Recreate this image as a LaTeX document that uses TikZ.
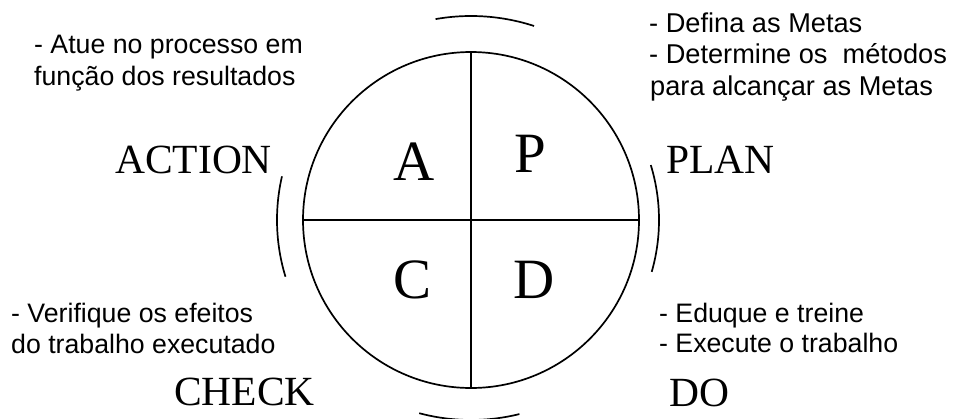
\documentclass[tikz,border=0pt]{standalone}
\usepackage{fontspec}
\setmainfont{Liberation Serif}
\newfontfamily\arialfont{Liberation Sans}
\begin{document}
\begin{tikzpicture}[x=1pt,y=1pt,
  ring/.style={line width=1.7pt},
  bigletter/.style={inner sep=0pt,anchor=base,font=\fontsize{57}{60}\selectfont},
  phase/.style={inner sep=0pt,anchor=base west,font=\fontsize{41.5}{44}\selectfont},
  note/.style={inner sep=0pt,anchor=base west,font=\arialfont\fontsize{26.7}{31}\selectfont},
  noteb/.style={note,font=\arialfont\fontsize{27.2}{31}\selectfont}]
\clip (0,0) rectangle (953,-418);
\fill[white] (0,0) rectangle (953,-418);
\coordinate (c) at (471,-220);
% circle and cross
\draw[ring] (c) circle[radius=168];
\coordinate (top) at (471,-52);
\coordinate (bot) at (471,-388);
\coordinate (lft) at (303,-220);
\coordinate (rgt) at (639,-220);
\draw[ring] (top) -- (bot);
\draw[ring] (lft) -- (rgt);
% outer arcs
\draw[ring] ([shift={(c)}]72:204) arc[start angle=72,end angle=100,radius=204];
\draw[ring] ([shift={(c)}]255:200) arc[start angle=255,end angle=284,radius=200];
\draw[ring] ([shift={(c)}]167:194) arc[start angle=167,end angle=197,radius=194];
\draw[ring] ([shift={(c)}]-16:188) arc[start angle=-16,end angle=17,radius=188];
% quadrant letters
\node[bigletter] (A) at (414.5,-180.5) {A};
\node[bigletter] (P) at (530,-172) {P};
\node[bigletter] (C) at (413,-298) {C};
\node[bigletter] (D) at (534.5,-298) {D};
% phase names
\node[phase] (action) at (115,-173) {ACTION};
\node[phase] (plan) at (666,-173) {PLAN};
\node[phase] (check) at (174,-405) {CHECK};
\node[phase] (do) at (669,-406) {DO};
% notes
\node[note] (a1) at (34,-53) {- Atue no processo em};
\node[note] (a2) at (34,-85) {função dos resultados};
\node[noteb] (p1) at (649,-32) {- Defina as Metas};
\node[noteb] (p2) at (649,-63.5) {- Determine os\ \ métodos};
\node[noteb] (p3) at (650,-95) {para alcançar as Metas};
\node[note] (c1) at (11,-322) {- Verifique os efeitos};
\node[note] (c2) at (11,-353) {do trabalho executado};
\node[note] (d1) at (659,-322) {- Eduque e treine};
\node[note] (d2) at (659,-352) {- Execute o trabalho};
\end{tikzpicture}
\end{document}
